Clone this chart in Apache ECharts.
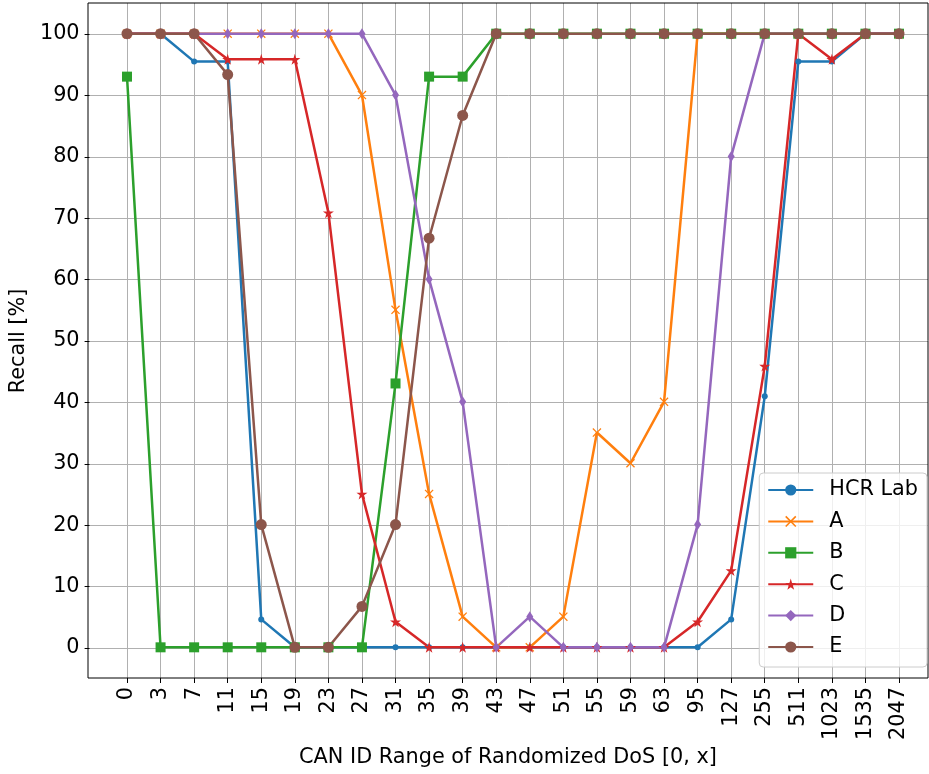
<!DOCTYPE html>
<html>
<head>
<meta charset="utf-8">
<script src="https://cdn.jsdelivr.net/npm/echarts@6/dist/echarts.min.js"></script>
<style>
  html, body { margin: 0; padding: 0; background: #fff; }
  #chart { width: 929px; height: 774px; }
</style>
</head>
<body>
<div id="chart"></div>
<script>
// CAN ID ranges tested (upper bound x of [0, x])
const categories = ['0', '3', '7', '11', '15', '19', '23', '27', '31', '35', '39', '43',
  '47', '51', '55', '59', '63', '95', '127', '255', '511', '1023', '1535', '2047'];

// Recall [%] per detector
const hcrLab = [100, 100, 95.45, 95.45, 4.55, 0, 0, 0, 0, 0, 0, 0,
  0, 0, 0, 0, 0, 0, 4.55, 40.9, 95.45, 95.45, 100, 100];
const seriesA = [100, 100, 100, 100, 100, 100, 100, 90, 55, 25, 5, 0,
  0, 5, 35, 30, 40, 100, 100, 100, 100, 100, 100, 100];
const seriesB = [93, 0, 0, 0, 0, 0, 0, 0, 43, 93, 93, 100,
  100, 100, 100, 100, 100, 100, 100, 100, 100, 100, 100, 100];
const seriesC = [100, 100, 100, 95.83, 95.83, 95.83, 70.83, 25, 4.17, 0, 0, 0,
  0, 0, 0, 0, 0, 4.17, 12.5, 45.83, 100, 95.83, 100, 100];
const seriesD = [100, 100, 100, 100, 100, 100, 100, 100, 90, 60, 40, 0,
  5, 0, 0, 0, 0, 20, 80, 100, 100, 100, 100, 100];
const seriesE = [100, 100, 100, 93.33, 20, 0, 0, 6.67, 20, 66.67, 86.67, 100,
  100, 100, 100, 100, 100, 100, 100, 100, 100, 100, 100, 100];

const yTicks = [0, 10, 20, 30, 40, 50, 60, 70, 80, 90, 100];

const FONT = 'DejaVu Sans';
const FONT_SIZE = 20.8;
const GRID_COLOR = '#b0b0b0';

const crossPath = 'path://M0,1 L1,0 L5,4 L9,0 L10,1 L6,5 L10,9 L9,10 L5,6 L1,10 L0,9 L4,5 Z';
const starPath = 'path://M50,0 L61,35 L98,35 L68,57 L79,91 L50,70 L21,91 L32,57 L2,35 L39,35 Z';

function toPoints(values) {
  return values.map((v, i) => [i, v]);
}

const seriesDefs = [
  { name: 'HCR Lab', data: hcrLab, color: '#1f77b4', symbol: 'circle', size: 6 },
  { name: 'A', data: seriesA, color: '#ff7f0e', symbol: crossPath, size: 9 },
  { name: 'B', data: seriesB, color: '#2ca02c', symbol: 'rect', size: 10 },
  { name: 'C', data: seriesC, color: '#d62728', symbol: starPath, size: 11 },
  { name: 'D', data: seriesD, color: '#9467bd', symbol: 'diamond', size: [7, 11] },
  { name: 'E', data: seriesE, color: '#8c564b', symbol: 'circle', size: 11 }
];

const chart = echarts.init(document.getElementById('chart'), null, { renderer: 'canvas' });

const option = {
  animation: false,
  backgroundColor: '#fff',
  textStyle: { fontFamily: FONT, color: '#000' },
  grid: [
    // outer frame of the plotting area
    { left: 88, right: 1, top: 3, bottom: 96, show: true, borderColor: '#000', borderWidth: 1,
      backgroundColor: 'transparent', z: 3 },
    // data area: x index 0..23, y -5..105
    { left: 127, right: 30, top: 3, bottom: 96 },
    // y tick area: 0..100
    { left: 88, right: 1, top: 34, bottom: 126 }
  ],
  xAxis: [
    {
      gridIndex: 0, type: 'value', min: 0, max: 1,
      axisLine: { show: false, onZero: false }, axisTick: { show: false }, axisLabel: { show: false },
      splitLine: { show: false },
      name: 'CAN ID Range of Randomized DoS [0, x]', nameLocation: 'middle', nameGap: 69,
      nameTextStyle: { fontFamily: FONT, fontSize: FONT_SIZE, color: '#000' }
    },
    {
      gridIndex: 1, type: 'value', min: 0, max: categories.length - 1, interval: 1,
      position: 'bottom',
      axisLine: { show: false, onZero: false },
      axisTick: { show: true, length: 5, lineStyle: { color: '#000', width: 1 } },
      axisLabel: {
        rotate: 90, margin: 9, fontSize: FONT_SIZE, fontFamily: FONT, color: '#000',
        formatter: v => categories[v] !== undefined ? categories[v] : ''
      },
      splitLine: { show: true, lineStyle: { color: GRID_COLOR, width: 1 } }
    },
    {
      gridIndex: 2, type: 'value', min: 0, max: 1, show: false
    }
  ],
  yAxis: [
    { gridIndex: 0, type: 'value', min: 0, max: 1, show: false },
    { gridIndex: 1, type: 'value', min: -5, max: 105, show: false },
    {
      gridIndex: 2, type: 'value', min: yTicks[0], max: yTicks[yTicks.length - 1], interval: 10,
      axisLine: { show: false, onZero: false },
      axisTick: { show: true, length: 5, lineStyle: { color: '#000', width: 1 } },
      axisLabel: { margin: 10, fontSize: FONT_SIZE, fontFamily: FONT, color: '#000' },
      splitLine: { show: true, lineStyle: { color: GRID_COLOR, width: 1 } },
      name: 'Recall [%]', nameLocation: 'middle', nameGap: 57,
      nameTextStyle: { fontFamily: FONT, fontSize: FONT_SIZE, color: '#000' }
    }
  ],
  legend: {
    orient: 'vertical',
    right: 2,
    bottom: 107,
    padding: [6.5, 9, 9.5, 8],
    itemWidth: 45,
    itemHeight: 14,
    itemGap: 10.4,
    backgroundColor: 'rgba(255,255,255,0.8)',
    borderColor: '#cccccc',
    borderWidth: 1,
    borderRadius: 4,
    textStyle: { fontFamily: FONT, fontSize: FONT_SIZE, color: '#000', lineHeight: 21, padding: [0, 0, 0, 11] },
    data: seriesDefs.map(s => s.name)
  },
  series: seriesDefs.map(s => ({
    name: s.name,
    type: 'line',
    xAxisIndex: 1,
    yAxisIndex: 1,
    data: toPoints(s.data),
    clip: false,
    symbol: s.symbol,
    symbolSize: s.size,
    showAllSymbol: true,
    lineStyle: { color: s.color, width: 2.5 },
    itemStyle: { color: s.color, borderWidth: 0 },
    emphasis: { disabled: true }
  }))
};

chart.setOption(option);
</script>
</body>
</html>
